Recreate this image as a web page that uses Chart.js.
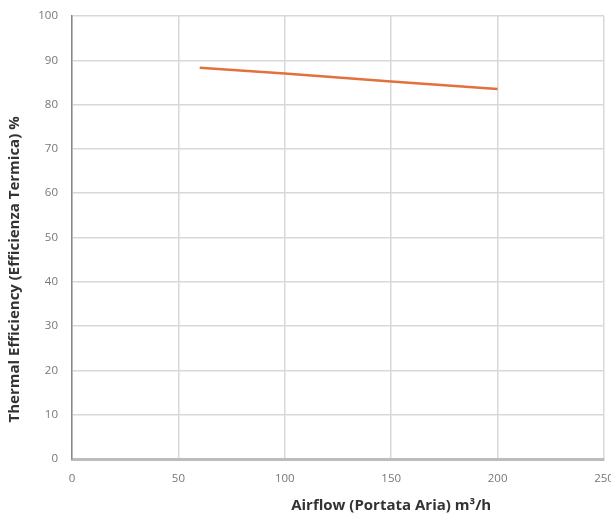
<!DOCTYPE html>
<html>
<head>
<meta charset="utf-8">
<script src="https://cdn.jsdelivr.net/npm/chart.js@4"></script>
<style>
    html, body { margin: 0; padding: 0; background: #fff; }
    #wrap { width: 611px; height: 515px; position: relative; }
</style>
</head>
<body>
<div id="wrap"><canvas id="effChart"></canvas></div>
<script>
// --- Data ---
const airflow = [60, 100, 150, 200];
const efficiency = [88.3, 87.0, 85.2, 83.5];
const xTicks = [0, 50, 100, 150, 200, 250];
const yTicks = [0, 10, 20, 30, 40, 50, 60, 70, 80, 90, 100];

const xTitle = "Airflow (Portata Aria) m³/h";
const yTitle = "Thermal Efficiency (Efficienza Termica) %";

const titleFont = "bold 15px 'Open Sans'";

// axis titles sit off-centre in the original, so draw them by hand
const axisTitles = {
    id: "axisTitles",
    afterDraw(chart) {
        const c = chart.ctx;
        const a = chart.chartArea;
        c.save();
        c.font = titleFont;
        c.fillStyle = "#333";
        c.textAlign = "center";
        c.textBaseline = "middle";
        c.fillText(xTitle, a.left + (a.right - a.left) * 0.6, 506);
        c.translate(15, a.top + (a.bottom - a.top) * 0.572);
        c.rotate(-Math.PI / 2);
        c.fillText(yTitle, 0, 0);
        c.restore();
    },
};

// --- Chart setup ---
const ctx = document.getElementById("effChart").getContext("2d");
const effChart = new Chart(ctx, {
    type: "line",
    data: {
        datasets: [{
            label: "Efficiency",
            data: airflow.map((x, i) => ({ x: x, y: efficiency[i] })),
            borderColor: "#e2713b",
            borderWidth: 2.5,
            pointRadius: 0,
            tension: 0,
            fill: false,
        }],
    },
    options: {
        responsive: true,
        maintainAspectRatio: false,
        animation: false,
        layout: { padding: { top: 16, right: 7, left: 0, bottom: 0 } },
        scales: {
            x: {
                type: "linear",
                min: 0,
                max: 250,
                afterBuildTicks: s => { s.ticks = xTicks.map(v => ({ value: v })); },
                afterFit: s => { s.height = 56; s.paddingRight = 0; s.paddingLeft = 0; },
                ticks: { color: "#777", font: { family: "Open Sans", size: 11.5 }, padding: 13 },
                grid: { color: "#d8d8d8", lineWidth: 1.5, drawTicks: false },
                border: { color: "#bdbdbd", width: 3 },
            },
            y: {
                min: 0,
                max: 100,
                afterBuildTicks: s => { s.ticks = yTicks.map(v => ({ value: v })); },
                afterFit: s => { s.width = 72; s.paddingTop = 0; s.paddingBottom = 0; },
                ticks: { color: "#777", font: { family: "Open Sans", size: 11.5 }, padding: 14 },
                grid: { color: "#d8d8d8", lineWidth: 1.5, drawTicks: false },
                border: { color: "#888", width: 1.5 },
            },
        },
        plugins: {
            legend: { display: false },
            tooltip: { enabled: false },
        },
    },
    plugins: [axisTitles],
});
</script>
</body>
</html>
